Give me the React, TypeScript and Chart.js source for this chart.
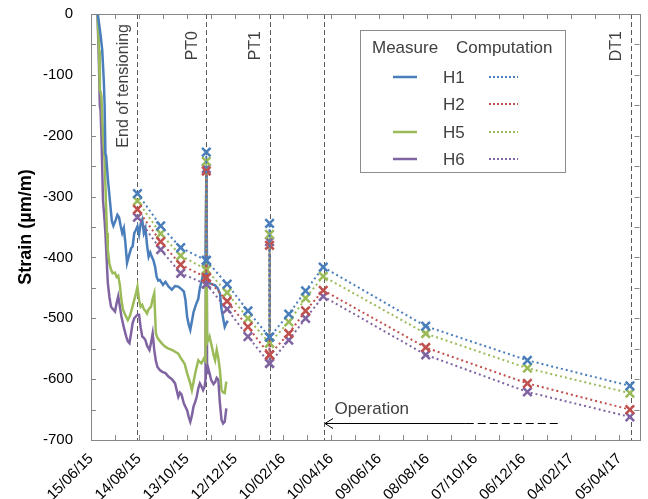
import React, { useEffect, useRef } from 'react';
import { Chart, registerables } from 'chart.js';

Chart.register(...registerables);

// ---------- data ----------
const tickLabels = ['15/06/15', '14/08/15', '13/10/15', '12/12/15', '10/02/16', '10/04/16', '09/06/16', '08/08/16', '07/10/16', '06/12/16', '04/02/17', '05/04/17'];
const labelStepDays = 60;
const minorStepDays = 30;
const xMaxDays = 685;
const yMin = -700;
const yMax = 0;

const seriesNames = ['H1', 'H2', 'H5', 'H6'];
const seriesColors = ['#4A7EBB', '#C0504D', '#9BBB59', '#8064A2'];

// Measured (days since 15/06/15, strain)
const h1MeasDays = [8, 10, 12, 14, 16, 17, 18, 19, 21, 24, 26, 28, 31, 33, 35, 37, 39, 41, 43, 45, 47, 50, 52, 54, 56, 58, 60, 62, 64, 66, 68, 70, 72, 74, 76, 78, 80, 82, 84, 86, 90, 93, 97, 101, 105, 109, 113, 116, 118, 120, 122, 124, 126, 128, 131, 134, 136, 138, 140, 142, 143, 144, 145, 147, 151, 155, 158, 161, 163, 165, 167, 169, 171];
const h1MeasVals = [5, -15, -35, -59, -110, -150, -229, -234, -270, -312, -340, -348, -338, -330, -334, -348, -360, -352, -377, -409, -399, -385, -382, -360, -355, -349, -362, -345, -338, -360, -352, -380, -399, -392, -399, -405, -415, -432, -438, -437, -445, -440, -448, -453, -447, -448, -452, -456, -470, -497, -510, -519, -505, -490, -478, -468, -450, -440, -428, -432, -430, -260, -432, -442, -444, -446, -450, -459, -485, -500, -514, -508, -504];

const h5MeasDays = [8, 10, 11, 12, 13, 15, 17, 19, 20, 21, 23, 25, 27, 30, 32, 34, 36, 38, 40, 43, 46, 48, 50, 52, 54, 56, 58, 60, 62, 64, 66, 68, 70, 72, 75, 77, 79, 81, 83, 85, 89, 93, 97, 101, 105, 109, 112, 114, 117, 120, 124, 126, 128, 130, 132, 134, 136, 138, 141, 143, 144, 145, 148, 151, 153, 155, 157, 159, 161, 163, 165, 167, 169];
const h5MeasVals = [5, -60, -125, -128, -135, -200, -240, -322, -360, -388, -410, -420, -426, -425, -432, -430, -445, -470, -486, -495, -503, -498, -490, -480, -470, -460, -448, -470, -481, -478, -485, -488, -492, -485, -481, -468, -459, -525, -532, -536, -542, -547, -550, -552, -555, -558, -565, -569, -575, -590, -607, -618, -605, -591, -580, -569, -572, -574, -566, -570, -260, -540, -530, -547, -560, -569, -552, -565, -585, -618, -622, -623, -604];

const h6MeasDays = [8, 9, 10, 11, 12, 13, 15, 17, 18, 19, 21, 23, 25, 28, 30, 32, 34, 36, 38, 41, 44, 46, 48, 50, 52, 54, 56, 58, 60, 62, 64, 66, 68, 70, 73, 75, 77, 79, 81, 83, 86, 89, 93, 97, 101, 105, 107, 109, 111, 113, 116, 120, 122, 124, 126, 128, 130, 132, 134, 136, 138, 140, 142, 143, 144, 145, 146, 148, 150, 153, 155, 157, 159, 161, 163, 165, 167, 169];
const h6MeasVals = [5, -40, -87, -150, -160, -200, -306, -340, -360, -388, -442, -465, -481, -486, -489, -475, -464, -480, -497, -515, -530, -538, -541, -525, -508, -500, -497, -494, -494, -515, -530, -532, -536, -545, -552, -540, -525, -552, -570, -580, -585, -588, -590, -596, -600, -607, -618, -629, -622, -625, -640, -651, -662, -670, -660, -645, -638, -629, -615, -607, -612, -618, -612, -600, -260, -590, -580, -590, -601, -608, -605, -598, -601, -640, -667, -673, -670, -648];

// Computation (shared dates)
const compDays = [58, 87, 112, 144, 144, 144, 170, 196, 223, 223, 223, 247, 268, 290, 418, 545, 673];
const h1Comp = [-295, -348, -384, -405, -227, -405, -444, -488, -531, -344, -531, -493, -455, -416, -513, -569, -611];
const h2Comp = [-321, -374, -412, -433, -258, -433, -472, -514, -560, -380, -560, -525, -488, -454, -548, -607, -650];
const h5Comp = [-307, -361, -397, -420, -242, -420, -458, -500, -541, -362, -541, -506, -467, -431, -525, -582, -623];
const h6Comp = [-334, -387, -426, -444, -254, -444, -485, -530, -574, -374, -574, -536, -500, -464, -560, -621, -662];

// Events
const eventLabels = ['End of tensioning', 'PT0', 'PT1', 'DT1'];
const eventDays = [58, 144, 223, 674];
const operationDay = 291;
const operationSolidEndDay = 468;
const operationDashEndDay = 583;
const operationArrowValue = -672;
const operationTextValue = -649;
const operationTextDay = 304;

// ---------- helpers ----------
const pts = (days: number[], vals: number[]) => days.map((d, i) => ({ x: d, y: vals[i] }));

const SANS = '"Liberation Sans", Arial, sans-serif';
const FRAME = '#868686';

const overlayPlugin = {
  id: 'overlay',
  beforeDatasetsDraw(chart: any) {
    const { ctx, chartArea: a, scales } = chart;
    const x = scales.x;
    ctx.save();
    ctx.strokeStyle = '#595959';
    ctx.lineWidth = 1;
    ctx.setLineDash([5, 3]);
    [...eventDays, operationDay].forEach((d) => {
      const px = Math.round(x.getPixelForValue(d)) + 0.5;
      ctx.beginPath();
      ctx.moveTo(px, a.top);
      ctx.lineTo(px, a.bottom);
      ctx.stroke();
    });
    ctx.restore();
  },
  afterDatasetsDraw(chart: any) {
    const { ctx, chartArea: a, scales } = chart;
    const x = scales.x;
    const y = scales.y;
    ctx.save();
    // frame
    ctx.strokeStyle = FRAME;
    ctx.lineWidth = 1;
    ctx.setLineDash([]);
    ctx.strokeRect(Math.round(a.left) + 0.5, Math.round(a.top) + 0.5, Math.round(a.right - a.left), Math.round(a.bottom - a.top));
    // ticks
    ctx.beginPath();
    for (let d = 0; d <= xMaxDays; d += minorStepDays) {
      const px = Math.round(x.getPixelForValue(d)) + 0.5;
      ctx.moveTo(px, a.bottom);
      ctx.lineTo(px, a.bottom - 5);
      ctx.moveTo(px, a.top);
      ctx.lineTo(px, a.top + 5);
    }
    for (let v = yMin; v <= yMax; v += 50) {
      const py = Math.round(y.getPixelForValue(v)) + 0.5;
      ctx.moveTo(a.left, py);
      ctx.lineTo(a.left + 5, py);
      ctx.moveTo(a.right, py);
      ctx.lineTo(a.right - 5, py);
    }
    ctx.stroke();

    // event labels (rotated)
    ctx.fillStyle = '#404040';
    ctx.font = `16px ${SANS}`;
    ctx.textAlign = 'center';
    ctx.textBaseline = 'middle';
    eventLabels.forEach((t, i) => {
      const px = x.getPixelForValue(eventDays[i]) - 14;
      const w = ctx.measureText(t).width;
      const cy = a.top + (i === 0 ? 10 : 17) + w / 2;
      ctx.save();
      ctx.translate(px, cy);
      ctx.rotate(-Math.PI / 2);
      ctx.fillText(t, 0, 0);
      ctx.restore();
    });

    // Operation arrow
    const ay = Math.round(y.getPixelForValue(operationArrowValue)) + 0.5;
    const ax0 = x.getPixelForValue(operationDay);
    const ax1 = x.getPixelForValue(operationSolidEndDay);
    const ax2 = x.getPixelForValue(operationDashEndDay);
    ctx.strokeStyle = '#000';
    ctx.lineWidth = 1;
    ctx.beginPath();
    ctx.moveTo(ax0 + 1, ay);
    ctx.lineTo(ax1, ay);
    ctx.moveTo(ax0 + 9, ay - 5);
    ctx.lineTo(ax0 + 1, ay);
    ctx.lineTo(ax0 + 9, ay + 5);
    ctx.stroke();
    ctx.setLineDash([8, 4]);
    ctx.beginPath();
    ctx.moveTo(ax1, ay);
    ctx.lineTo(ax2, ay);
    ctx.stroke();
    ctx.setLineDash([]);
    ctx.fillStyle = '#404040';
    ctx.font = `17px ${SANS}`;
    ctx.textAlign = 'left';
    ctx.textBaseline = 'middle';
    ctx.fillText('Operation', x.getPixelForValue(operationTextDay), y.getPixelForValue(operationTextValue));

    // Legend
    const lx = 360, ly = 30, lw = 205, lh = 142;
    ctx.fillStyle = '#ffffff';
    ctx.fillRect(lx, ly, lw, lh);
    ctx.strokeStyle = '#8c8c8c';
    ctx.strokeRect(lx + 0.5, ly + 0.5, lw, lh);
    ctx.fillStyle = '#404040';
    ctx.font = `17px ${SANS}`;
    ctx.textBaseline = 'middle';
    ctx.textAlign = 'left';
    ctx.fillText('Measure', 372, 48);
    ctx.fillText('Computation', 456, 48);
    const rowY = [77, 104, 132, 159];
    const hasMeasure = [true, false, true, true];
    seriesNames.forEach((n, i) => {
      ctx.fillStyle = '#404040';
      ctx.fillText(n, 443, rowY[i] + 1);
      ctx.strokeStyle = seriesColors[i];
      if (hasMeasure[i]) {
        ctx.lineWidth = 2.5;
        ctx.setLineDash([]);
        ctx.beginPath();
        ctx.moveTo(393, rowY[i]);
        ctx.lineTo(417, rowY[i]);
        ctx.stroke();
      }
      ctx.lineWidth = 2;
      ctx.setLineDash([2, 2]);
      ctx.beginPath();
      ctx.moveTo(489, rowY[i]);
      ctx.lineTo(518, rowY[i]);
      ctx.stroke();
    });
    ctx.restore();
  },
};

function ddmmyy(i: number) {
  return tickLabels[i] ?? '';
}

export default function App() {
  const canvasRef = useRef<HTMLCanvasElement | null>(null);

  useEffect(() => {
    if (!canvasRef.current) return;
    const measured = (label: string, color: string, days: number[], vals: number[]) => ({
      label,
      data: pts(days, vals),
      borderColor: color,
      backgroundColor: color,
      borderWidth: 2.5,
      pointRadius: 0,
      tension: 0,
      order: 2,
    });
    const computed = (label: string, color: string, vals: number[]) => ({
      label,
      data: pts(compDays, vals),
      borderColor: color,
      backgroundColor: color,
      borderWidth: 2,
      borderDash: [2, 3],
      pointStyle: 'crossRot',
      pointRadius: 6,
      pointBorderWidth: 2.5,
      pointBorderColor: color,
      tension: 0,
      order: 1,
    });
    const chart = new Chart(canvasRef.current, {
      type: 'line',
      data: {
        datasets: [
          measured('H1 measure', seriesColors[0], h1MeasDays, h1MeasVals),
          measured('H5 measure', seriesColors[2], h5MeasDays, h5MeasVals),
          measured('H6 measure', seriesColors[3], h6MeasDays, h6MeasVals),
          computed('H1 computation', seriesColors[0], h1Comp),
          computed('H2 computation', seriesColors[1], h2Comp),
          computed('H5 computation', seriesColors[2], h5Comp),
          computed('H6 computation', seriesColors[3], h6Comp),
        ] as any,
      },
      options: {
        animation: false,
        responsive: false,
        devicePixelRatio: 1,
        layout: { padding: { top: 14, left: 0, right: 0, bottom: 0 } },
        plugins: { legend: { display: false }, tooltip: { enabled: false } },
        scales: {
          x: {
            type: 'linear',
            min: 0,
            max: xMaxDays,
            grid: { display: false, drawTicks: false },
            border: { display: false },
            ticks: {
              stepSize: labelStepDays,
              autoSkip: false,
              includeBounds: false,
              minRotation: 45,
              maxRotation: 45,
              padding: 10,
              color: '#000',
              font: { family: SANS, size: 15 },
              callback: (v: any) => {
                const n = Number(v);
                return n % labelStepDays === 0 ? ddmmyy(Math.round(n / labelStepDays)) : '';
              },
            },
            afterFit: (s: any) => {
              s.height = 59;
              s.paddingLeft = 0;
              s.paddingRight = 0;
            },
          },
          y: {
            min: yMin,
            max: yMax,
            grid: { display: false, drawTicks: false },
            border: { display: false },
            ticks: {
              stepSize: 100,
              padding: 18,
              color: '#000',
              font: { family: SANS, size: 15 },
            },
            title: {
              display: true,
              text: 'Strain (µm/m)',
              color: '#000',
              font: { family: SANS, size: 18, weight: 'bold' },
              padding: { top: 15, bottom: 4 },
            },
            afterFit: (s: any) => {
              s.width = 91;
              s.paddingTop = 0;
              s.paddingBottom = 0;
            },
          },
        },
      },
      plugins: [overlayPlugin],
    });
    return () => chart.destroy();
  }, []);

  return (
    <div style={{ position: 'fixed', left: 0, top: 0, width: 648, height: 499, overflow: 'hidden', background: '#fff' }}>
      <canvas ref={canvasRef} width={648} height={499} style={{ display: 'block' }} />
    </div>
  );
}
